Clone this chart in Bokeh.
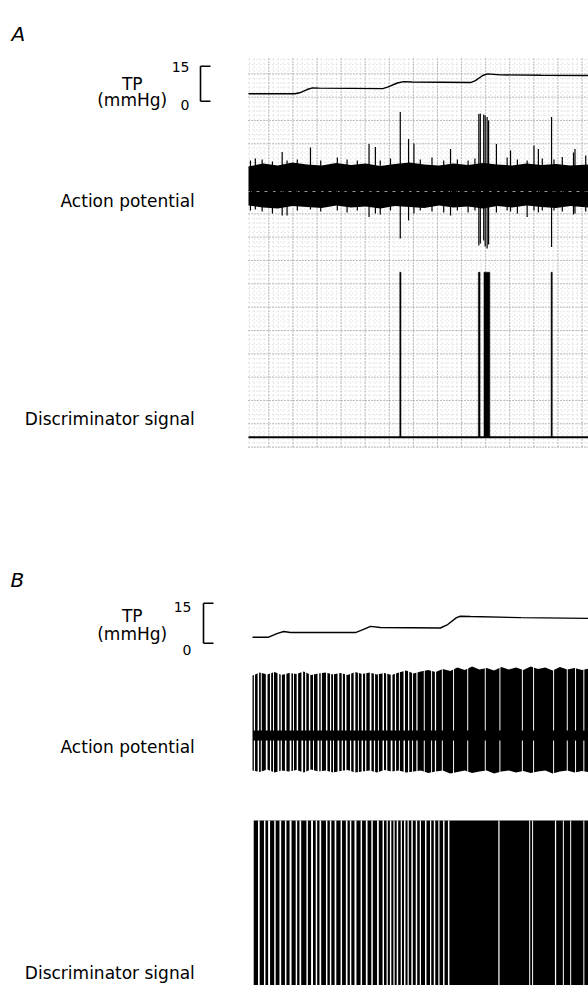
import numpy as np
from bokeh.plotting import figure
from bokeh.models import Range1d, Label
from bokeh.embed import file_html
from bokeh.resources import INLINE

W, H = 588, 985

# ------------------------------------------------------------------ data
# Panel A -- tracheal pressure (time s, mmHg)
tpA_t = [0, 9.5, 10.5, 12.0, 13.1, 14.5, 27.5, 28.5, 30.5, 31.8, 33.5, 45.5, 46.5, 48.0, 49.0, 51.6, 60.0, 69.7]
tpA_p = [3.2, 3.2, 3.6, 5.0, 5.7, 5.6, 5.4, 6.0, 7.8, 8.4, 8.2, 8.0, 8.8, 11.0, 11.7, 11.3, 11.1, 11.0]

# Panel A -- action potential background noise envelope (s, uV)
apA_env_t = [0, 3, 6, 9, 12, 15, 18, 21, 24, 27, 30, 33, 36, 39, 42, 45, 48, 51, 54, 57, 60, 63, 66, 69.7]
apA_env_hi = [38, 44, 40, 46, 42, 40, 45, 41, 44, 39, 43, 46, 42, 40, 44, 41, 45, 42, 40, 44, 41, 43, 40, 42]
apA_env_lo = [-40, -44, -46, -41, -43, -45, -40, -44, -42, -46, -41, -43, -45, -40, -44, -42, -46, -41, -44, -40, -43, -45, -41, -44]

# Panel A -- individual spikes (s, peak uV, trough uV)
apA_spk_t = [0.4, 1.4, 2.8, 4.9, 6.9, 7.9, 10.0, 12.7, 14.8, 18.2, 20.2, 22.3, 24.7, 26.0, 27.0, 29.1,
             31.1, 32.8, 33.9, 35.2, 37.6, 40.0, 41.4, 42.8, 45.0, 46.4, 47.2, 47.5, 48.2, 48.5, 48.9,
             49.2, 50.8, 53.0, 53.7, 55.1, 57.1, 58.5, 59.4, 60.2, 62.1, 62.6, 64.3, 66.6, 66.9, 69.1]
apA_spk_hi = [50, 54, 52, 48, 67, 50, 52, 76, 50, 56, 52, 50, 83, 77, 50, 54,
              147, 93, 84, 52, 56, 50, 73, 52, 50, 54, 143, 144, 142, 140, 137,
              130, 83, 56, 70, 52, 50, 80, 73, 54, 137, 52, 57, 66, 73, 60]
apA_spk_lo = [-50, -48, -52, -56, -60, -60, -50, -48, -52, -50, -54, -50, -63, -56, -58, -50,
              -106, -70, -56, -50, -52, -54, -60, -50, -54, -50, -120, -116, -110, -122, -126,
              -118, -54, -50, -52, -56, -63, -50, -54, -50, -123, -50, -52, -58, -56, -52]

# Panel A -- discriminator output pulses (start s, duration s), 5 V pulses
dA_start = [31.0, 47.1, 48.25, 62.0]
dA_dur = [0.25, 0.35, 1.2, 0.25]
D_AMP = 5.0

# Panel B -- tracheal pressure (s, mmHg)
tpB_t = [0, 3.3, 5.0, 6.4, 7.8, 21.1, 22.5, 24.2, 26.2, 38.5, 40.0, 41.8, 42.6, 44.7, 55.0, 68.9]
tpB_p = [2.25, 2.25, 3.6, 4.4, 4.0, 4.0, 5.0, 6.3, 5.9, 5.7, 7.0, 9.6, 10.1, 10.0, 9.6, 9.3]

# Panel B -- action potential envelope of dense firing (s, uV)
apB_env_t = [0, 1.5, 3, 4.5, 6, 7.5, 9, 10.5, 12, 13.5, 15, 16.5, 18, 19.5, 21, 22.5, 24, 25.5, 27, 28.5,
             30, 31.5, 33, 34.5, 36, 37.5, 39, 40.5, 42, 43.5, 45, 46.5, 48, 49.5, 51, 52.5, 54, 55.5,
             57, 58.5, 60, 61.5, 63, 64.5, 66, 67.5, 68.9]
apB_env_hi = [120, 126, 122, 127, 121, 125, 123, 128, 121, 124, 126, 122, 125, 121, 127, 123, 126, 122, 125, 121,
              126, 130, 124, 128, 131, 127, 133, 129, 136, 131, 138, 132, 135, 130, 137, 132, 136, 131, 138,
              133, 136, 130, 137, 132, 135, 131, 134]
apB_env_lo = [-70, -73, -68, -74, -70, -72, -69, -74, -68, -72, -70, -74, -71, -69, -74, -72, -70, -74, -69, -72,
              -70, -74, -72, -70, -75, -72, -70, -76, -73, -70, -75, -72, -70, -76, -72, -70, -74, -71, -75,
              -72, -70, -76, -72, -70, -74, -71, -73]
# silent intervals between spikes (centre s, width s)
apB_gap_t = [0.4, 1.2, 1.8, 2.9, 3.7, 4.3, 5.3, 5.9, 6.8, 7.8, 8.4, 9.2, 10.2, 10.9, 11.7, 12.5, 13.5, 14.1,
             15.2, 16.0, 16.6, 17.6, 18.4, 19.1, 20.1, 20.9, 21.7, 22.5, 23.2, 24.2, 25.0, 25.8, 26.8, 27.5,
             28.5, 29.3, 30.1, 31.1, 32.0, 32.8, 33.7, 35.2, 36.7, 37.5, 38.9, 41.2, 44.1, 47.7, 50.7, 55.3,
             57.6, 61.7, 64.5, 66.2, 67.9]
apB_gap_w = [0.25, 0.3, 0.2, 0.35, 0.25, 0.2, 0.35, 0.25, 0.3, 0.35, 0.2, 0.3, 0.35, 0.25, 0.3, 0.2, 0.35, 0.25,
             0.3, 0.25, 0.2, 0.35, 0.25, 0.3, 0.25, 0.35, 0.2, 0.3, 0.25, 0.35, 0.25, 0.2, 0.3, 0.25,
             0.35, 0.25, 0.2, 0.3, 0.25, 0.2, 0.25, 0.2, 0.2, 0.25, 0.2, 0.2, 0.2, 0.2, 0.2, 0.2,
             0.2, 0.2, 0.2, 0.2, 0.2]

# Panel B -- discriminator output: continuous pulse train with silent gaps
dB_start, dB_end = 0.25, 68.9
dB_gap_t = [1.3, 2.5, 3.4, 4.6, 5.7, 6.8, 7.8, 9.0, 9.8, 11.2, 12.2, 13.1, 13.9, 15.2, 16.0, 17.0, 18.2,
            19.3, 20.1, 21.1, 22.3, 23.4, 24.5, 25.7, 26.8, 27.6, 28.3, 29.0, 29.7, 30.5, 31.2, 31.9, 32.7,
            33.6, 34.4, 35.5, 36.5, 37.3, 38.2, 39.2, 40.2, 50.5, 56.8, 57.4, 62.1, 63.7, 65.2, 67.9]
dB_gap_w = [0.35, 0.3, 0.4, 0.3, 0.35, 0.3, 0.4, 0.3, 0.35, 0.3, 0.4, 0.3, 0.35, 0.3, 0.3, 0.35, 0.3,
            0.35, 0.3, 0.4, 0.3, 0.35, 0.3, 0.35, 0.3, 0.25, 0.3, 0.25, 0.3, 0.25, 0.3, 0.25, 0.3,
            0.3, 0.25, 0.3, 0.25, 0.3, 0.25, 0.3, 0.3, 0.25, 0.2, 0.2, 0.25, 0.2, 0.2, 0.2]

TP_SCALE = [0, 15]

# ------------------------------------------------------------------ layout
PX_PER_S = 4.88
FONT = "DejaVu Sans"


def xr(zero_px):
    return Range1d(start=-zero_px / PX_PER_S, end=(W - zero_px) / PX_PER_S)


def yr(zero_px, px_per_unit):
    return Range1d(start=(zero_px - H) / px_per_unit, end=zero_px / px_per_unit)


p = figure(width=W, height=H, x_range=Range1d(0, W), y_range=Range1d(H, 0),
           x_axis_type=None, y_axis_type=None, toolbar_location=None,
           output_backend="svg", min_border=0, outline_line_color=None,
           background_fill_color="white", border_fill_color="white")
p.extra_x_ranges = {"tA": xr(248), "tB": xr(252)}
p.extra_y_ranges = {
    "tpA": yr(100.7, 35 / 15), "apA": yr(185, 0.5), "dA": yr(436.7, 33),
    "tpB": yr(642.7, 40 / 15), "apB": yr(735, 0.5), "dB": yr(985, 33),
}

# chart-paper grid of panel A (page coordinates)
gx0, gx1, gy0, gy1 = 248, 588, 58, 447
vx_minor = 268.3 + 4.82 * np.arange(-4, 67)
vx_minor = vx_minor[(vx_minor >= gx0) & (vx_minor <= gx1)]
hy_minor = 423.3 - 4.667 * np.arange(-5, 80)
hy_minor = hy_minor[(hy_minor >= gy0) & (hy_minor <= gy1)]
p.segment(x0=vx_minor, x1=vx_minor, y0=gy0, y1=gy1, line_color="#cfcfcf", line_width=1, line_dash="1 3")
p.segment(x0=gx0, x1=gx1, y0=hy_minor, y1=hy_minor, line_color="#cfcfcf", line_width=1, line_dash="1 3")
vx_major = 268.3 + 24.1 * np.arange(0, 14)
hy_major = 423.3 - 23.33 * np.arange(-1, 17)
hy_major = hy_major[(hy_major >= gy0) & (hy_major <= gy1)]
p.segment(x0=vx_major, x1=vx_major, y0=gy0, y1=gy1, line_color="#8c8c8c", line_width=1, line_dash="1 2")
p.segment(x0=gx0, x1=gx1, y0=hy_major, y1=hy_major, line_color="#8c8c8c", line_width=1, line_dash="1 2")

# ---- Panel A traces
p.line(tpA_t, tpA_p, x_range_name="tA", y_range_name="tpA", line_color="black", line_width=1.4)
p.varea(x=apA_env_t, y1=apA_env_lo, y2=apA_env_hi, x_range_name="tA", y_range_name="apA", fill_color="black")
p.line([0, xr(248).end], [-12, -12], x_range_name="tA", y_range_name="apA", line_color="white",
       line_width=1.2, line_dash="3 5", line_alpha=0.6)
p.segment(x0=apA_spk_t, x1=apA_spk_t, y0=apA_spk_lo, y1=apA_spk_hi, x_range_name="tA", y_range_name="apA",
          line_color="black", line_width=1.2)
p.line([0, xr(248).end], [0, 0], x_range_name="tA", y_range_name="dA", line_color="black", line_width=2)
p.quad(left=dA_start, right=[s + d for s, d in zip(dA_start, dA_dur)], bottom=0, top=D_AMP,
       x_range_name="tA", y_range_name="dA", fill_color="black", line_color="black", line_width=0.5)

# ---- Panel B traces
p.line(tpB_t, tpB_p, x_range_name="tB", y_range_name="tpB", line_color="black", line_width=1.4)
p.varea(x=apB_env_t, y1=apB_env_lo, y2=apB_env_hi, x_range_name="tB", y_range_name="apB", fill_color="black")
p.vbar(x=apB_gap_t, width=apB_gap_w, bottom=10, top=150, x_range_name="tB", y_range_name="apB",
       fill_color="white", line_color=None)
p.vbar(x=apB_gap_t, width=apB_gap_w, bottom=-90, top=-10, x_range_name="tB", y_range_name="apB",
       fill_color="white", line_color=None)
p.quad(left=[dB_start], right=[dB_end], bottom=[0], top=[D_AMP], x_range_name="tB", y_range_name="dB",
       fill_color="black", line_color=None)
p.vbar(x=dB_gap_t, width=dB_gap_w, bottom=0, top=D_AMP, x_range_name="tB", y_range_name="dB",
       fill_color="white", line_color=None)

# ---- TP scale brackets
for rng, xb, xt in (("tpA", 200, 210), ("tpB", 203, 213)):
    p.segment(x0=[xb, xb, xb], x1=[xb, xt, xt], y0=[TP_SCALE[0], TP_SCALE[0], TP_SCALE[1]],
              y1=[TP_SCALE[1], TP_SCALE[0], TP_SCALE[1]], y_range_name=rng, line_color="black", line_width=1.6)


# ---- texts
def lab(x, y, text, size="17px", align="left", style="normal"):
    p.add_layout(Label(x=x, y=y, text=text, text_font=FONT, text_font_size=size, text_align=align,
                       text_baseline="alphabetic", text_font_style=style, text_color="black"))


lab(11, 33, "A", size="20px", style="italic")
lab(10, 579, "B", size="20px", style="italic")
for (ytp, ymm, y15, y0, xr15), ap_y, d_y in (((83.3, 99, 66, 104, 189), 200, 418),
                                            ((615, 633, 606.5, 649, 191), 746.5, 972)):
    lab(131.7, ytp, "TP", align="center")
    lab(131.7, ymm, "(mmHg)", align="center")
    lab(xr15, y15, "15", size="14px", align="right")
    lab(xr15, y0, "0", size="14px", align="right")
    lab(194.3, ap_y, "Action potential", align="right")
    lab(194.3, d_y, "Discriminator signal", align="right")

open("out.html", "w").write(file_html(p, INLINE))
